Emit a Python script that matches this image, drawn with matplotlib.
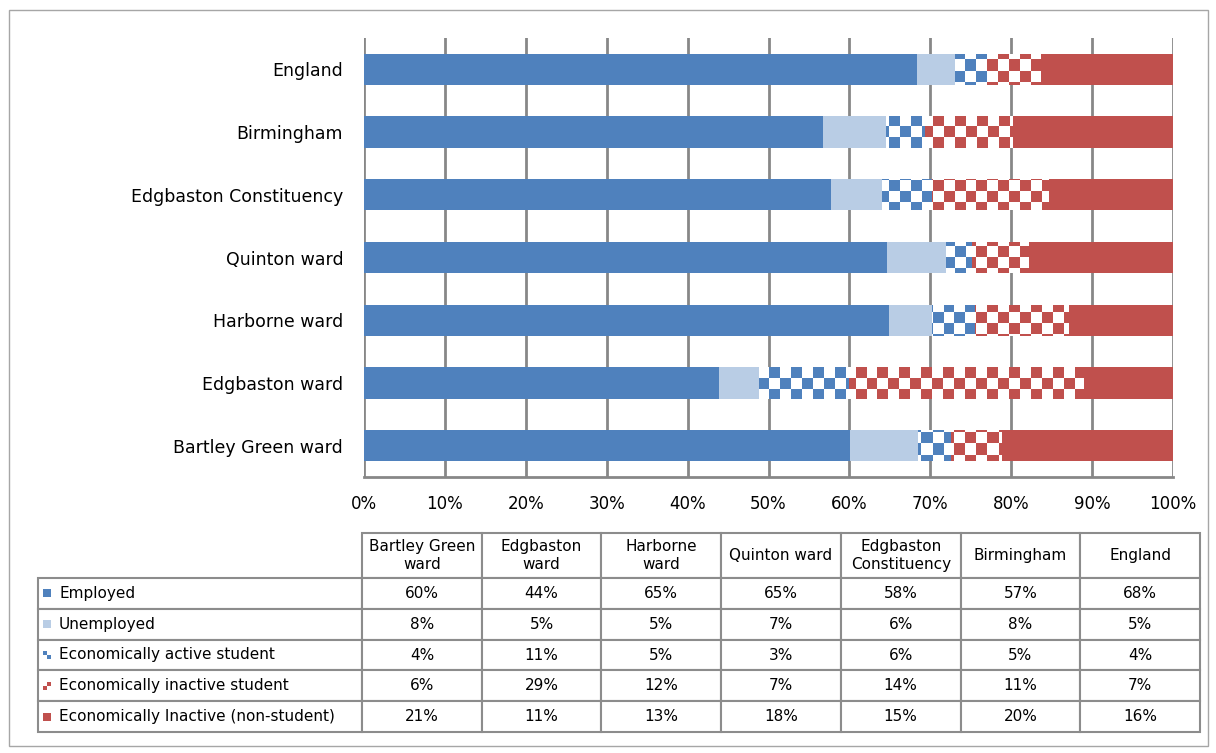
import matplotlib
matplotlib.use("Agg")
import matplotlib.pyplot as plt
import numpy as np
from matplotlib.colors import ListedColormap
from matplotlib.patches import Rectangle

areas = ["Bartley Green ward", "Edgbaston ward", "Harborne ward", "Quinton ward",
         "Edgbaston Constituency", "Birmingham", "England"]
col_headers = ["Bartley Green\nward", "Edgbaston\nward", "Harborne\nward", "Quinton ward",
               "Edgbaston\nConstituency", "Birmingham", "England"]

series_names = ["Employed", "Unemployed", "Economically active student",
                "Economically inactive student", "Economically Inactive (non-student)"]
employed = [60.1, 43.9, 64.9, 64.6, 57.7, 56.7, 68.3]
unemployed = [8.4, 4.9, 5.3, 7.3, 6.3, 7.8, 4.8]
active_student = [4.1, 11.2, 5.3, 3.3, 6.2, 4.8, 3.9]
inactive_student = [6.2, 29.0, 11.6, 7.0, 14.4, 10.8, 6.6]
inactive_other = [21.2, 11.0, 12.9, 17.8, 15.4, 19.9, 16.4]
xticks = [0, 10, 20, 30, 40, 50, 60, 70, 80, 90, 100]

blue = "#4F81BD"
light_blue = "#B9CDE5"
red = "#C0504D"
grid_col = "#878787"
series = [employed, unemployed, active_student, inactive_student, inactive_other]
colors = [blue, light_blue, blue, red, red]
checkered = [False, False, True, True, False]

plt.rcParams["font.family"] = "DejaVu Sans"

fig = plt.figure(figsize=(12.16, 7.53), dpi=100)
fig.patches.append(Rectangle((9 / 1216, 1 - 746 / 753), 1199 / 1216, 736 / 753,
                             transform=fig.transFigure, fill=False,
                             edgecolor="#A6A6A6", linewidth=1))

ax = fig.add_axes([364 / 1216, 1 - 477 / 753, 809 / 1216, 439 / 753])
y = np.arange(len(areas))

# checker texture, about 11 px squares
checker = np.indices((40, 74)).sum(axis=0) % 2

left = np.zeros(len(areas))
for vals, col, chk in zip(series, colors, checkered):
    bars = ax.barh(y, vals, left=left, height=0.5, color="white" if chk else col,
                   edgecolor="none", zorder=2)
    if chk:
        for rect in bars:
            im = ax.imshow(checker, extent=[0, 100, -0.5, 6.5], aspect="auto",
                           cmap=ListedColormap(["white", col]),
                           interpolation="nearest", zorder=2.5)
            im.set_clip_path(rect)
    left += np.array(vals)

ax.set_xlim(0, 100)
ax.set_ylim(-0.5, len(areas) - 0.5)
ax.set_aspect("auto")
ax.set_xticks(xticks)
ax.set_xticklabels([f"{t}%" for t in xticks], fontsize=12)
ax.set_yticks(y)
ax.set_yticklabels(areas, fontsize=12.5)
ax.tick_params(axis="both", length=0)
ax.tick_params(axis="x", pad=13)
ax.tick_params(axis="y", pad=15)
ax.grid(axis="x", color=grid_col, linewidth=2)
ax.set_axisbelow(True)
for s in ["top", "left", "right"]:
    ax.spines[s].set_visible(False)
ax.spines["bottom"].set_color(grid_col)
ax.spines["bottom"].set_linewidth(2)

# data table
tax = fig.add_axes([38 / 1216, 1 - 732 / 753, 1162 / 1216, 199 / 753])
tax.axis("off")
cell_text = []
for name, vals in zip(series_names, series):
    cell_text.append([name] + [f"{v:.0f}%" for v in vals])
tbl = tax.table(cellText=cell_text, colLabels=[""] + col_headers,
                cellLoc="center", bbox=[0, 0, 1, 1])
tbl.auto_set_font_size(False)
tbl.set_fontsize(11)
for (r, c), cell in tbl.get_celld().items():
    cell.set_edgecolor("#8C8C8C")
    cell.set_linewidth(1.5)
    cell.set_width(324 if c == 0 else 119.7)
    cell.set_height(45 if r == 0 else 30.8)
    if r == 0 and c == 0:
        cell.visible_edges = "open"
    if c == 0 and r > 0:
        cell.get_text().set_ha("left")
        cell._loc = "left"
        cell.PAD = 21 / 324

# legend keys in the row label cells
kw = dict(transform=tax.transAxes, clip_on=False, linewidth=0, zorder=5)
sx = 5 / 1162
sw = 8 / 1162
sh = 8 / 199
for i, col in enumerate(colors):
    yc = 1 - (45 + 30.8 * i + 15.4) / 199
    if not checkered[i]:
        tax.add_patch(Rectangle((sx, yc - sh / 2), sw, sh, facecolor=col, **kw))
    elif i == 2:
        tax.add_patch(Rectangle((sx, yc), sw / 2, sh / 2, facecolor=col, **kw))
        tax.add_patch(Rectangle((sx + sw / 2, yc - sh / 2), sw / 2, sh / 2, facecolor=col, **kw))
    else:
        tax.add_patch(Rectangle((sx, yc - sh / 2), sw / 2, sh / 2, facecolor=col, **kw))
        tax.add_patch(Rectangle((sx + sw / 2, yc), sw / 2, sh / 2, facecolor=col, **kw))

fig.savefig("out.png", dpi=100)
